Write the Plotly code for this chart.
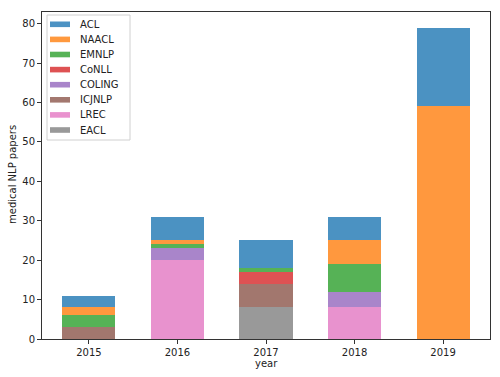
import plotly.graph_objects as go

years = ["2015", "2016", "2017", "2018", "2019"]
year_vals = [2015, 2016, 2017, 2018, 2019]
venues = ["ACL", "NAACL", "EMNLP", "CoNLL", "COLING", "ICJNLP", "LREC", "EACL"]
ACL = [3, 6, 7, 6, 20]
NAACL = [2, 1, 0, 6, 59]
EMNLP = [3, 1, 1, 7, 0]
CoNLL = [0, 0, 3, 0, 0]
COLING = [0, 3, 0, 4, 0]
ICJNLP = [3, 0, 6, 0, 0]
LREC = [0, 20, 0, 8, 0]
EACL = [0, 0, 8, 0, 0]
series = {"ACL": ACL, "NAACL": NAACL, "EMNLP": EMNLP, "CoNLL": CoNLL,
          "COLING": COLING, "ICJNLP": ICJNLP, "LREC": LREC, "EACL": EACL}
colors = {"ACL": "#1f77b4", "NAACL": "#ff7f0e", "EMNLP": "#2ca02c", "CoNLL": "#d62728",
          "COLING": "#9467bd", "ICJNLP": "#8c564b", "LREC": "#e377c2", "EACL": "#7f7f7f"}

W, H = 500, 377
L, R, T, B = 42, 10, 12, 38
pw, ph = W - L - R, H - T - B

def px(x):
    return (x - L) / pw

def py(y):
    return (H - B - y) / ph

fig = go.Figure()
for v in reversed(venues):
    fig.add_trace(go.Bar(x=year_vals, y=series[v], name=v, width=0.6, showlegend=False,
                         marker=dict(color=colors[v], line=dict(width=0)), opacity=0.8))

font = dict(family="DejaVu Sans", size=10, color="#222")
shapes = [dict(type="rect", xref="paper", yref="paper", x0=px(47), x1=px(130), y0=py(140), y1=py(15),
               line=dict(color="#d0d0d0", width=1), fillcolor="rgba(255,255,255,0.8)", layer="above")]
annotations = []
for i, v in enumerate(venues):
    cy = 24.3 + i * 15.1
    shapes.append(dict(type="rect", xref="paper", yref="paper", x0=px(50), x1=px(70),
                       y0=py(cy + 2.8), y1=py(cy - 2.8), line=dict(width=0),
                       fillcolor=colors[v], opacity=0.8, layer="above"))
    annotations.append(dict(xref="paper", yref="paper", x=px(78), y=py(cy), text=v, showarrow=False,
                            xanchor="left", yanchor="middle", font=font))
annotations.append(dict(xref="paper", yref="paper", x=px(266), y=py(364), text="year", showarrow=False,
                        xanchor="center", yanchor="middle", font=font))
annotations.append(dict(xref="paper", yref="paper", x=px(12), y=py(175), text="medical NLP papers",
                        showarrow=False, textangle=-90, xanchor="center", yanchor="middle", font=font))

fig.update_layout(
    barmode="stack",
    width=W, height=H,
    margin=dict(l=L, r=R, t=T, b=B),
    paper_bgcolor="white", plot_bgcolor="white",
    font=font,
    showlegend=False,
    shapes=shapes, annotations=annotations,
    xaxis=dict(range=[2014.47, 2019.53], tickvals=year_vals, ticktext=years, automargin=False,
               showline=True, linecolor="#333", linewidth=1, mirror=True,
               ticks="outside", ticklen=4, tickcolor="#333", showgrid=False, zeroline=False),
    yaxis=dict(range=[0, 82.95], tickvals=[0, 10, 20, 30, 40, 50, 60, 70, 80], automargin=False,
               showline=True, linecolor="#333", linewidth=1, mirror=True,
               ticks="outside", ticklen=4, tickcolor="#333", showgrid=False, zeroline=False),
)
fig.write_html("out.html", config={"displayModeBar": False},
               post_script="document.body.style.margin='0';document.body.style.overflow='hidden';")
